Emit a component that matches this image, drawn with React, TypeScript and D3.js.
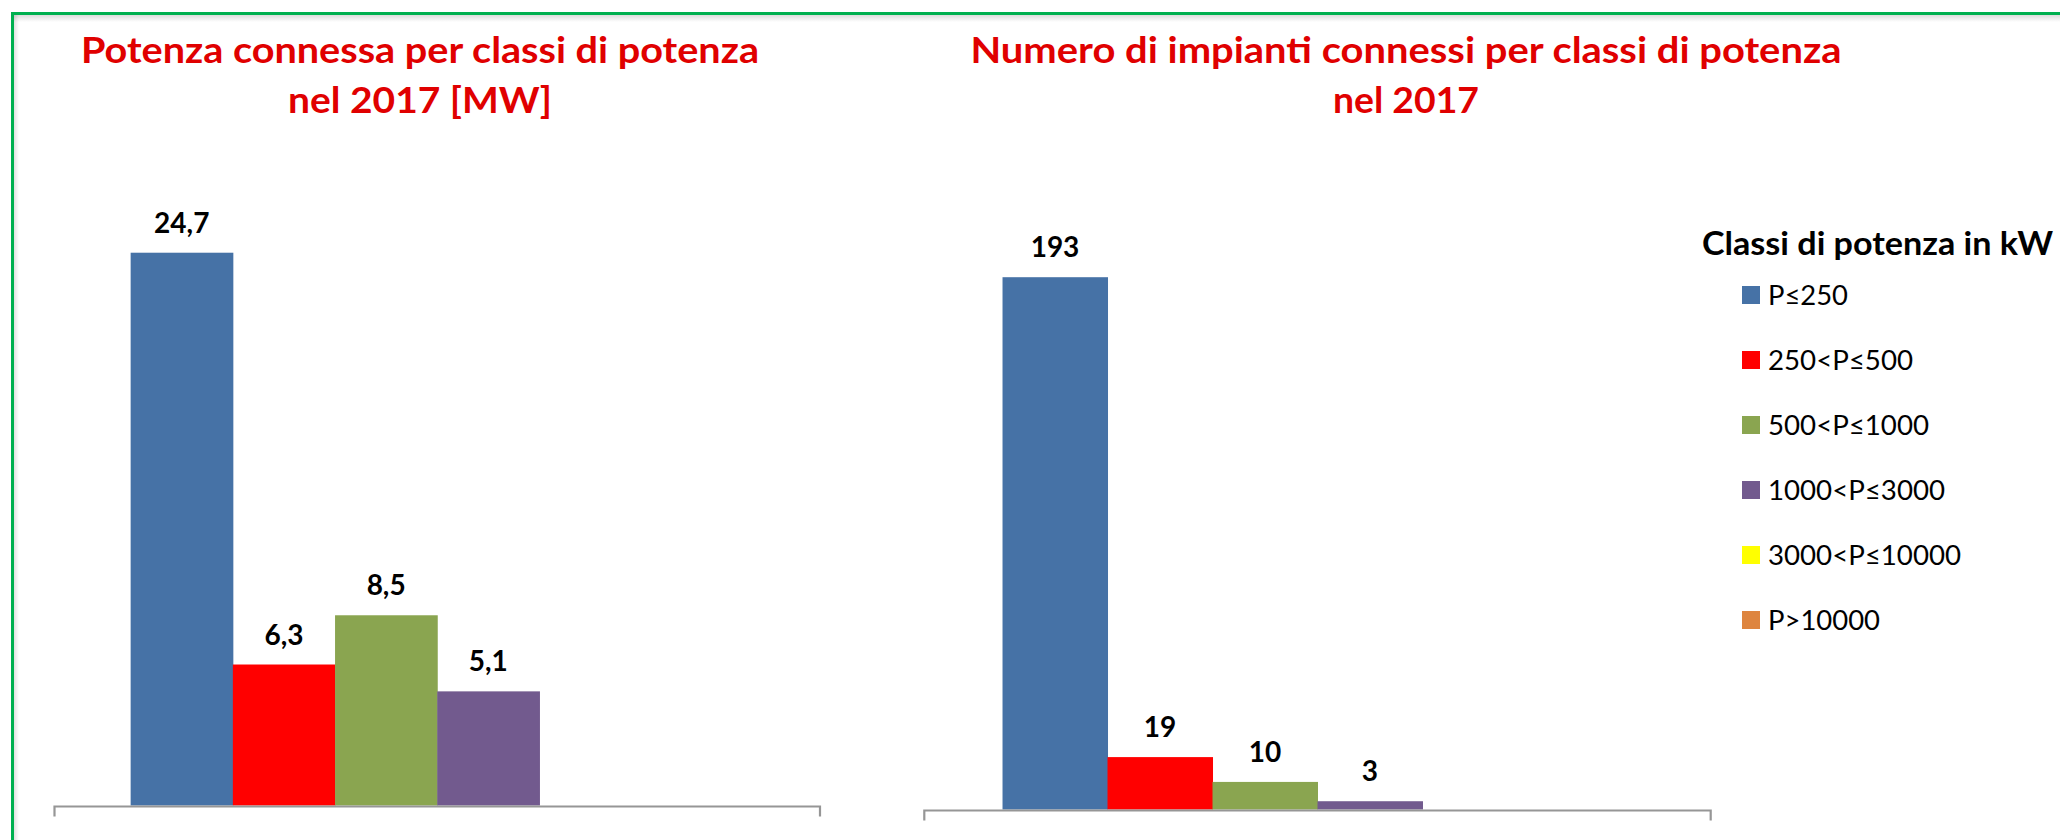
import React, { useRef, useEffect } from 'react';
import * as d3 from 'd3';

const classi = ['P≤250', '250<P≤500', '500<P≤1000', '1000<P≤3000', '3000<P≤10000', 'P>10000'];
const colori = ['#4672A6', '#FF0000', '#8AA550', '#725A8E', '#FFFF00', '#DE853F'];
const potenzaMW: (number | null)[] = [24.7, 6.3, 8.5, 5.1, null, null];
const numeroImpianti: (number | null)[] = [193, 19, 10, 3, null, null];

const titoloPotenza = ['Potenza connessa per classi di potenza', 'nel 2017 [MW]'];
const titoloNumero = ['Numero di impianti connessi per classi di potenza', 'nel 2017'];
const titoloLegenda = 'Classi di potenza in kW';

const FONT = 'Lato, "Open Sans", sans-serif';
const it = d3.formatLocale({ decimal: ',', thousands: '.', grouping: [3], currency: ['', '€'] });

const App: React.FC = () => {
  const svgRef = useRef<SVGSVGElement | null>(null);

  useEffect(() => {
    const svg = d3.select(svgRef.current);
    svg.selectAll('*').remove();

    svg.append('rect').attr('width', 2060).attr('height', 840).attr('fill', '#fff');

    // soft shadow under the frame
    const defs = svg.append('defs');
    const gTop = defs.append('linearGradient').attr('id', 'shTop').attr('x1', 0).attr('y1', 0).attr('x2', 0).attr('y2', 1);
    gTop.append('stop').attr('offset', 0).attr('stop-color', '#000').attr('stop-opacity', 0.14);
    gTop.append('stop').attr('offset', 1).attr('stop-color', '#000').attr('stop-opacity', 0);
    const gLeft = defs.append('linearGradient').attr('id', 'shLeft').attr('x1', 0).attr('y1', 0).attr('x2', 1).attr('y2', 0);
    gLeft.append('stop').attr('offset', 0).attr('stop-color', '#000').attr('stop-opacity', 0.12);
    gLeft.append('stop').attr('offset', 1).attr('stop-color', '#000').attr('stop-opacity', 0);
    svg.append('rect').attr('x', 13).attr('y', 15).attr('width', 2047).attr('height', 7).attr('fill', 'url(#shTop)');
    svg.append('rect').attr('x', 14).attr('y', 15).attr('width', 5).attr('height', 825).attr('fill', 'url(#shLeft)');

    // green frame
    svg.append('path')
      .attr('d', 'M12.5,842 V13.5 H2062')
      .attr('fill', 'none')
      .attr('stroke', '#00B050')
      .attr('stroke-width', 3);

    const drawChart = (
      values: (number | null)[],
      x0: number, x1: number, base: number, yMax: number, top: number,
      fmt: (n: number) => string,
      title: string[], titleX: number, titleW: number[]
    ) => {
      const g = svg.append('g');
      const x = d3.scaleBand<string>().domain(classi).range([x0, x1]).paddingInner(0).paddingOuter(0.745);
      const y = d3.scaleLinear().domain([0, yMax]).range([base, top]);
      const rows = classi.map((c, i) => ({ c, v: values[i], col: colori[i] })).filter(d => d.v != null);

      g.selectAll('rect.bar').data(rows).enter().append('rect')
        .attr('class', 'bar')
        .attr('x', d => x(d.c)!)
        .attr('y', d => y(d.v as number))
        .attr('width', x.bandwidth() + 0.5)
        .attr('height', d => y(0) - y(d.v as number))
        .attr('fill', d => d.col);

      g.selectAll('text.lbl').data(rows).enter().append('text')
        .attr('class', 'lbl')
        .attr('x', d => x(d.c)! + x.bandwidth() / 2)
        .attr('y', d => y(d.v as number) - 20)
        .attr('text-anchor', 'middle')
        .style('font-family', FONT)
        .style('font-weight', 700)
        .style('font-size', '28px')
        .attr('fill', '#000')
        .text(d => fmt(d.v as number));

      // category axis with boundary tick marks
      g.append('path')
        .attr('d', `M${x0},${base + 11} V${base + 1} H${x1} V${base + 11}`)
        .attr('fill', 'none')
        .attr('stroke', '#969696')
        .attr('stroke-width', 2.2);

      title.forEach((t, i) => {
        g.append('text')
          .attr('x', titleX)
          .attr('y', 63 + i * 50)
          .attr('text-anchor', 'middle')
          .attr('textLength', titleW[i])
          .attr('lengthAdjust', 'spacingAndGlyphs')
          .style('font-family', FONT)
          .style('font-weight', 700)
          .style('font-size', '36px')
          .attr('fill', '#E00000')
          .text(t);
      });
    };

    drawChart(potenzaMW, 54.5, 820, 805.5, 30, 134.1, it.format('.1f'),
      titoloPotenza, 420, [678, 264]);
    drawChart(numeroImpianti, 924.3, 1710.7, 809.5, 250, 120, it.format('d'),
      titoloNumero, 1406, [871, 146]);

    // legend
    const leg = svg.append('g');
    leg.append('text')
      .attr('x', 1702)
      .attr('y', 255)
      .attr('textLength', 351)
      .attr('lengthAdjust', 'spacingAndGlyphs')
      .style('font-family', FONT)
      .style('font-weight', 700)
      .style('font-size', '32px')
      .attr('fill', '#000')
      .text(titoloLegenda);

    const legW = [80, 145, 161, 177, 193, 112];
    const ly = d3.scaleBand<string>().domain(classi).range([286, 286 + 65 * classi.length]);
    const items = leg.selectAll('g.item').data(classi).enter().append('g')
      .attr('class', 'item')
      .attr('transform', d => `translate(1742,${ly(d)})`);
    items.append('rect')
      .attr('width', 18).attr('height', 18)
      .attr('fill', (_, i) => colori[i]);
    items.append('text')
      .attr('x', 26)
      .attr('y', 19)
      .attr('textLength', (_, i) => legW[i])
      .attr('lengthAdjust', 'spacingAndGlyphs')
      .style('font-family', FONT)
      .style('font-size', '26px')
      .attr('fill', '#000')
      .text(d => d);
  }, []);

  return (
    <svg
      ref={svgRef}
      width={2060}
      height={840}
      style={{ position: 'absolute', left: 0, top: 0, display: 'block' }}
    />
  );
};

export default App;
